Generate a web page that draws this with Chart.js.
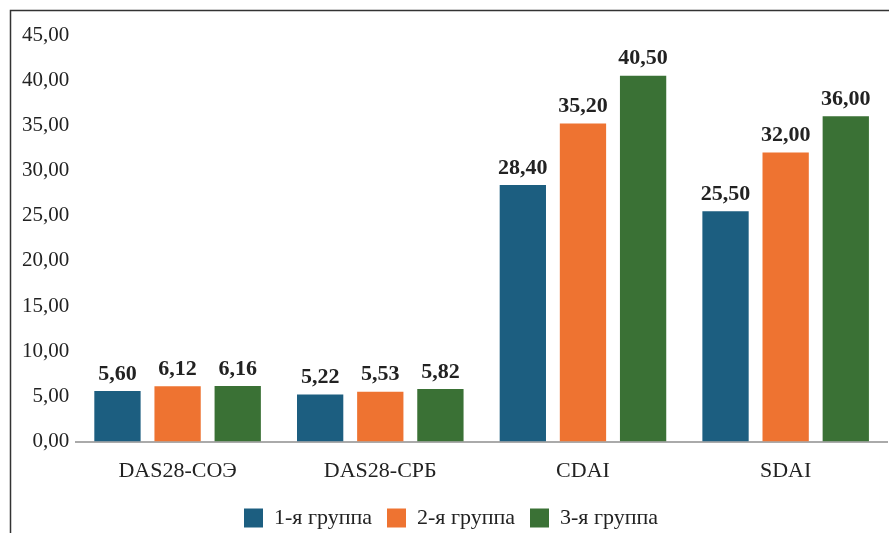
<!DOCTYPE html>
<html>
<head>
<meta charset="utf-8">
<script src="https://cdn.jsdelivr.net/npm/chart.js@4.4.0/dist/chart.umd.min.js"></script>
<style>
  html, body { margin: 0; padding: 0; background: #fff; }
  #wrap { width: 889px; height: 533px; position: relative; }
</style>
</head>
<body>
<div id="wrap"><canvas id="chart"></canvas></div>
<script>
// categories and series
var categories = ["DAS28-СОЭ", "DAS28-СРБ", "CDAI", "SDAI"];
var groupNames = ["1-я группа", "2-я группа", "3-я группа"];
var group1 = [5.60, 5.22, 28.40, 25.50];
var group2 = [6.12, 5.53, 35.20, 32.00];
var group3 = [6.16, 5.82, 40.50, 36.00];
var colors = ["#1c5e80", "#ee7331", "#3a7135"];

var serif = "'Liberation Serif', 'DejaVu Serif', serif";

function fmt(v) {
  return v.toFixed(2).replace(".", ",");
}

// frame round the picture (left and top lines)
var framePlugin = {
  id: "frame",
  beforeDraw: function (chart) {
    var c = chart.ctx;
    c.save();
    c.strokeStyle = "#333";
    c.lineWidth = 1.5;
    c.beginPath();
    c.moveTo(10.5, chart.height);
    c.lineTo(10.5, 10.5);
    c.lineTo(chart.width, 10.5);
    c.stroke();
    c.restore();
  }
};

// value labels over the bars
var valuePlugin = {
  id: "values",
  afterDatasetsDraw: function (chart) {
    var c = chart.ctx;
    c.save();
    c.font = "bold 22px " + serif;
    c.fillStyle = "#222";
    c.textAlign = "center";
    c.textBaseline = "bottom";
    chart.data.datasets.forEach(function (ds, i) {
      var meta = chart.getDatasetMeta(i);
      meta.data.forEach(function (bar, j) {
        c.fillText(fmt(ds.data[j]), bar.x, bar.y - 6);
      });
    });
    c.restore();
  }
};

var ctx = document.getElementById("chart").getContext("2d");
new Chart(ctx, {
  type: "bar",
  data: {
    labels: categories,
    datasets: [
      { label: groupNames[0], data: group1, backgroundColor: colors[0] },
      { label: groupNames[1], data: group2, backgroundColor: colors[1] },
      { label: groupNames[2], data: group3, backgroundColor: colors[2] }
    ]
  },
  options: {
    responsive: true,
    maintainAspectRatio: false,
    animation: false,
    categoryPercentage: 0.89,
    barPercentage: 0.77,
    layout: { padding: { top: 35, left: 15, right: 2, bottom: -6 } },
    scales: {
      x: {
        grid: { display: false },
        border: { display: true, color: "#aaa", width: 2 },
        ticks: { color: "#222", font: { family: serif, size: 22 }, padding: 8 }
      },
      y: {
        min: 0,
        max: 45,
        grid: { display: false, drawTicks: false },
        border: { display: false },
        ticks: {
          stepSize: 5,
          color: "#222",
          padding: 7,
          font: { family: serif, size: 21 },
          callback: function (v) { return fmt(v); }
        }
      }
    },
    plugins: {
      tooltip: { enabled: false },
      legend: {
        position: "bottom",
        labels: {
          boxWidth: 19,
          boxHeight: 19,
          padding: 15,
          color: "#222",
          font: { family: serif, size: 22 }
        }
      }
    }
  },
  plugins: [framePlugin, valuePlugin]
});
</script>
</body>
</html>
